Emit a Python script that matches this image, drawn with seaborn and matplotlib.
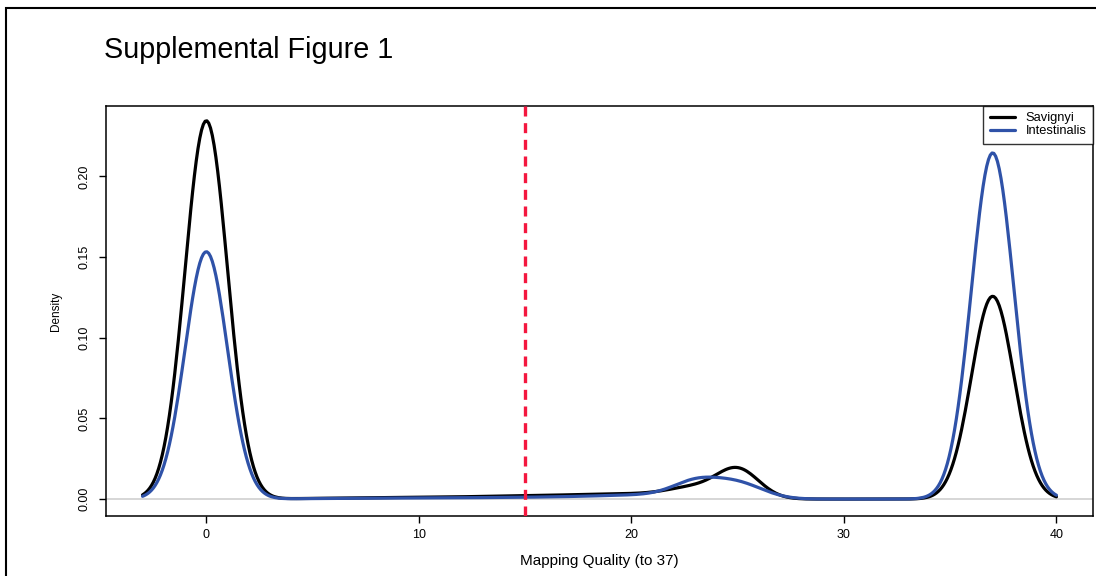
import numpy as np
import pandas as pd
import seaborn as sns
import matplotlib
matplotlib.use("Agg")
import matplotlib.pyplot as plt
from matplotlib.patches import Rectangle

# mapping quality scores that carry reads, and the share of reads at each score
scores = [0, 4, 5, 6, 7, 8, 9, 10, 11, 12, 13, 14, 15, 16, 17, 18, 19, 20, 21,
          22, 23, 24, 25, 26, 37]
savignyi = [0.500,
            0.0002, 0.0004, 0.0005, 0.0006, 0.0007, 0.0008, 0.0009, 0.0010, 0.0012,
            0.0014, 0.0016, 0.0018, 0.0020, 0.0022, 0.0025, 0.0027, 0.0030, 0.0028,
            0.005, 0.010, 0.002, 0.039, 0.0,
            0.268]
intestinalis = [0.3806,
                0.0002, 0.0003, 0.0004, 0.0005, 0.0006, 0.0006, 0.0007, 0.0007, 0.0008,
                0.0009, 0.0010, 0.0011, 0.0013, 0.0015, 0.0018, 0.0022, 0.0027, 0.0025,
                0.005, 0.020, 0.010, 0.016, 0.006,
                0.5327]
cutoff = 15
yticks = [0.00, 0.05, 0.10, 0.15, 0.20]
xticks = [0, 10, 20, 30, 40]

sns.set_theme(style="ticks")
plt.rcParams["font.family"] = ["Liberation Sans", "DejaVu Sans"]
plt.rcParams["text.color"] = "black"
plt.rcParams["axes.labelcolor"] = "black"
plt.rcParams["xtick.color"] = "black"
plt.rcParams["ytick.color"] = "black"

W, H = 1096, 576
fig = plt.figure(figsize=(W / 100, H / 100), dpi=100)
fig.patch.set_facecolor("white")
ax = fig.add_axes([106 / W, 1 - 516 / H, (1093 - 106) / W, (516 - 106) / H])

# outer frame
fig.patches.append(Rectangle((6 / W, -0.1), 1.2, 1.1 - 8 / H, transform=fig.transFigure,
                             fill=False, lw=1.5, ec="black"))

ax.axhline(0, color="#d0d0d0", lw=1.2, zorder=1)

series = [("Savignyi", savignyi, "black"), ("Intestinalis", intestinalis, "#2f52a8")]
for name, w, col in series:
    df = pd.DataFrame({"quality": scores, "weight": w})
    sd_w = np.sqrt(np.cov(df["quality"], aweights=df["weight"]))
    sd_u = np.sqrt(np.cov(df["quality"]))
    # bandwidth 1; seaborn sizes the grid from the unweighted spread,
    # so scale cut to reach 3 bandwidths past the data (like R's density)
    sns.kdeplot(data=df, x="quality", weights="weight", bw_method=1.0 / sd_w,
                cut=3 * sd_w / sd_u, common_grid=False, gridsize=512,
                color=col, lw=2.3, label=name, ax=ax, zorder=3)

ax.axvline(cutoff, color="#f4173f", lw=2.4, ls=(0, (3, 2)), zorder=4)

ax.set_xlim(-4.72, 41.72)
ax.set_ylim(-0.0105, 0.2437)
ax.set_xticks(xticks)
ax.set_xticklabels([str(t) for t in xticks], fontsize=9)
ax.set_yticks(yticks)
ax.set_yticklabels([f"{t:.2f}" for t in yticks], fontsize=9, rotation=90, va="center")
ax.tick_params(axis="both", direction="out", length=5, width=1, color="black")
ax.tick_params(axis="x", pad=4)
ax.tick_params(axis="y", pad=6)
for s in ax.spines.values():
    s.set_visible(True)
    s.set_linewidth(1.1)
    s.set_color("black")

ax.set_xlabel("Mapping Quality (to 37)", fontsize=11, labelpad=10)
ax.set_ylabel("Density", fontsize=8.5, labelpad=12)

leg = ax.legend(loc="upper right", fontsize=9.3, frameon=True, fancybox=False,
                borderaxespad=0, handlelength=2.0, handletextpad=0.8,
                labelspacing=0.05, borderpad=0.5)
leg.get_frame().set_edgecolor("black")
leg.get_frame().set_linewidth(1.0)

fig.text(104 / W, 1 - 50 / H, "Supplemental Figure 1", fontsize=20.7, va="center", ha="left")

fig.savefig("out.png", dpi=100)
